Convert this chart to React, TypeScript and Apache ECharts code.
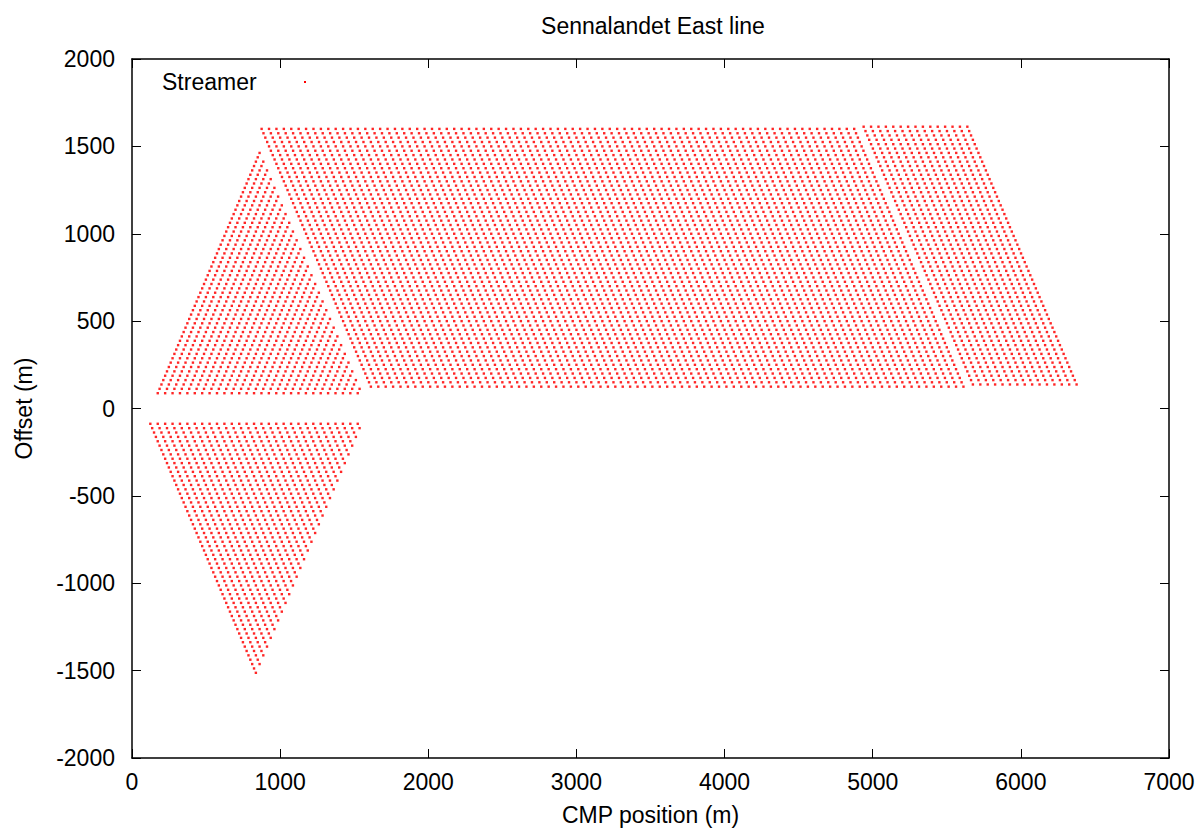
import React, { useEffect, useRef } from "react";
import * as echarts from "echarts";

// ---- axis ticks ----
const xTicks = [0, 1000, 2000, 3000, 4000, 5000, 6000, 7000];
const yTicks = [-2000, -1500, -1000, -500, 0, 500, 1000, 1500, 2000];

// ---- acquisition geometry (metres) ----
// split-spread part: station (first, last), near offset, far end of spread
const upperStations = [130, 1580];
const lowerStations = [80, 1530];
const splitNearOffset = [87.5, 87.5];
const splitSpreadEnd = [1600, 1600];
// streamer part: shot position (first, last) and offset (near, far) per block
const streamerShots = [
  [1675, 5675],
  [5745, 6445],
];
const streamerOffsets = [
  [125, 1600],
  [137.5, 1612.5],
];
const stationStep = 50;
const offsetStep = 25;

function buildPoints(): number[][] {
  const pts: number[][] = [];
  // upper triangle (positive offsets)
  for (let p = upperStations[0]; p <= upperStations[1]; p += stationStep) {
    for (let o = splitNearOffset[0]; p + o <= splitSpreadEnd[0]; o += offsetStep) {
      pts.push([p + o / 2, o]);
    }
  }
  // lower triangle (negative offsets)
  for (let p = lowerStations[0]; p <= lowerStations[1]; p += stationStep) {
    for (let o = splitNearOffset[1]; p + o <= splitSpreadEnd[1]; o += offsetStep) {
      pts.push([p + o / 2, -o]);
    }
  }
  // streamer blocks
  streamerShots.forEach((range, i) => {
    const [o0, o1] = streamerOffsets[i];
    for (let s = range[0]; s <= range[1]; s += stationStep) {
      for (let o = o0; o <= o1; o += offsetStep) {
        pts.push([s - o / 2, o]);
      }
    }
  });
  return pts;
}

const FONT = "Liberation Sans";
const FS = 23;

export default function App() {
  const ref = useRef<HTMLDivElement>(null);
  useEffect(() => {
    if (!ref.current) return;
    const chart = echarts.init(ref.current, undefined, { renderer: "svg" });
    const axisLine = { show: true, onZero: false, lineStyle: { color: "#000", width: 1.5 } };
    const axisTick = { show: true, inside: true, length: 9, lineStyle: { color: "#000", width: 1 } };
    const labelStyle = { color: "#000", fontFamily: FONT, fontSize: FS };
    chart.setOption({
      animation: false,
      backgroundColor: "#fff",
      title: {
        text: "Sennalandet East line",
        left: 648,
        top: 9,
        textAlign: "center",
        textStyle: { fontFamily: FONT, fontSize: FS, fontWeight: "normal", color: "#000" },
      },
      grid: { left: 132, top: 59, right: 32, bottom: 68, containLabel: false },
      xAxis: [
        {
          type: "value",
          min: 0,
          max: 7000,
          interval: 1000,
          position: "bottom",
          name: "CMP position (m)",
          nameLocation: "middle",
          nameGap: 45,
          nameTextStyle: labelStyle,
          axisLine,
          axisTick,
          splitLine: { show: false },
          axisLabel: { ...labelStyle, margin: 12, formatter: (v: number) => (xTicks.includes(v) ? String(v) : "") },
        },
        {
          type: "value",
          min: 0,
          max: 7000,
          interval: 1000,
          position: "top",
          axisLine,
          axisTick,
          splitLine: { show: false },
          axisLabel: { show: false },
        },
      ],
      yAxis: [
        {
          type: "value",
          min: -2000,
          max: 2000,
          interval: 500,
          position: "left",
          name: "Offset (m)",
          nameLocation: "middle",
          nameGap: 97,
          nameTextStyle: labelStyle,
          axisLine,
          axisTick,
          splitLine: { show: false },
          axisLabel: { ...labelStyle, margin: 17, formatter: (v: number) => (yTicks.includes(v) ? String(v) : "") },
        },
        {
          type: "value",
          min: -2000,
          max: 2000,
          interval: 500,
          position: "right",
          axisLine,
          axisTick,
          splitLine: { show: false },
          axisLabel: { show: false },
        },
      ],
      graphic: [
        {
          type: "text",
          left: 162,
          top: 70,
          style: { text: "Streamer", fontFamily: FONT, fontSize: FS, fill: "#000" },
        },
        {
          type: "rect",
          shape: { x: 304, y: 81, width: 2, height: 2 },
          style: { fill: "#ff0000" },
        },
      ],
      series: [
        {
          name: "Streamer",
          type: "scatter",
          xAxisIndex: 0,
          yAxisIndex: 0,
          symbol: "rect",
          symbolSize: 2.4,
          large: false,
          itemStyle: { color: "#ff0000", opacity: 0.85 },
          data: buildPoints(),
        },
      ],
    });
    return () => chart.dispose();
  }, []);
  return (
    <div
      ref={ref}
      style={{ position: "fixed", left: 0, top: 0, width: 1201, height: 831, background: "#fff" }}
    />
  );
}
